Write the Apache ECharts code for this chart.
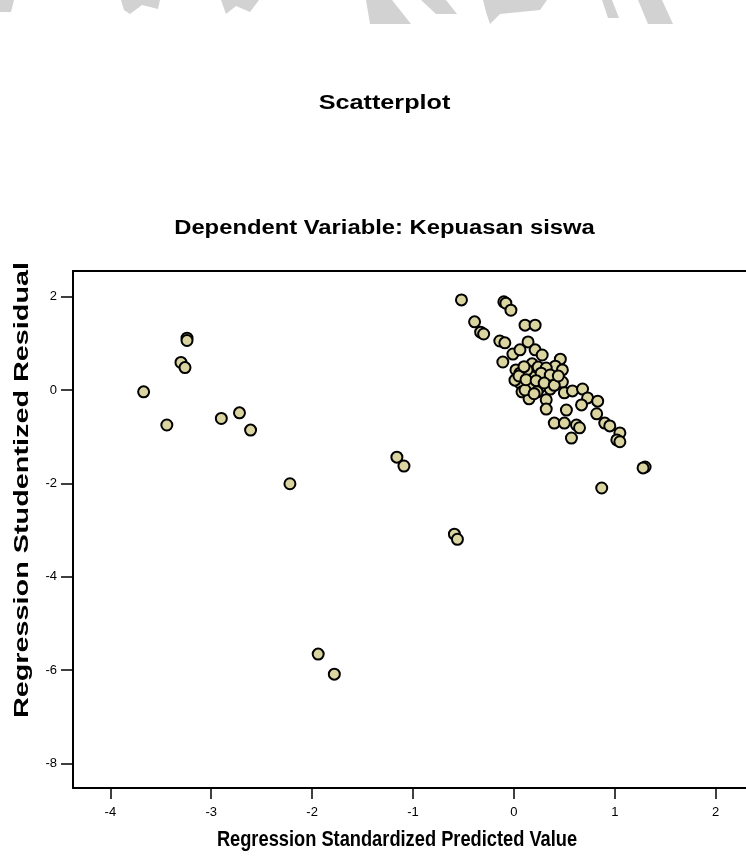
<!DOCTYPE html>
<html>
<head>
<meta charset="utf-8">
<title>Scatterplot</title>
<script src="https://cdn.jsdelivr.net/npm/echarts@6/dist/echarts.min.js"></script>
<style>
  html, body { margin: 0; padding: 0; background: #fff; }
  #chart { width: 746px; height: 858px; }
</style>
</head>
<body>
<div id="chart"></div>
<script>
// predicted value (x) and studentized residual (y)
var predicted = [
  -3.67, -3.24, -3.24, -3.30, -3.26, -3.44, -2.90, -2.72, -2.61, -2.22,
  -1.16, -1.09, -0.59, -0.56, -1.94, -1.78,
  -0.52, -0.10, -0.08, -0.03, -0.39, -0.33, -0.30, 0.11, 0.21, -0.14,
  -0.09, 0.14, -0.01, 0.06, 0.21, 0.28, -0.11, 0.46, 0.41, 0.18,
  0.24, 0.32, 0.02, 0.06, 0.18, 0.27, 0.36, 0.06, 0.18, 0.26,
  0.36, 0.48, 0.08, 0.50, 0.58, 0.68, 0.15, 0.32, 0.32, 0.52,
  0.40, 0.50, 0.57, 0.01, 0.48, 0.73, 0.83, 0.67, 0.82, 0.90,
  0.95, 0.62, 0.65, 1.05, 1.02, 1.05, 1.30, 1.28, 0.87, 0.11,
  0.23, 0.13, 0.05, 0.12, 0.22, 0.30, 0.40, 0.20, 0.44, 0.10
];
var residual = [
  -0.04, 1.11, 1.06, 0.59, 0.48, -0.75, -0.61, -0.49, -0.86, -2.01,
  -1.44, -1.63, -3.09, -3.20, -5.66, -6.09,
  1.93, 1.89, 1.86, 1.71, 1.46, 1.24, 1.20, 1.39, 1.39, 1.05,
  1.01, 1.03, 0.77, 0.86, 0.86, 0.75, 0.60, 0.66, 0.51, 0.56,
  0.49, 0.47, 0.43, 0.36, 0.28, 0.36, 0.32, 0.15, 0.11, 0.06,
  0.02, 0.17, -0.04, -0.06, -0.02, 0.02, -0.19, -0.21, -0.41, -0.43,
  -0.71, -0.71, -1.03, 0.21, 0.43, -0.17, -0.24, -0.32, -0.51, -0.71,
  -0.77, -0.75, -0.81, -0.92, -1.07, -1.11, -1.65, -1.67, -2.10, 0.00,
  -0.04, 0.43, 0.30, 0.22, 0.20, 0.15, 0.10, -0.08, 0.30, 0.50
];
var xTicks = [-4, -3, -2, -1, 0, 1, 2];
var yTicks = [-8, -6, -4, -2, 0, 2];

var points = [];
for (var i = 0; i < predicted.length; i++) {
  points.push([predicted[i], residual[i]]);
}

// bits of the grey watermark cut off at the top edge
var watermark = [
  [[0, 0], [14, 0], [11, 12], [0, 12]],
  [[121, 0], [160, 0], [158, 9], [142, 5], [130, 14], [124, 10]],
  [[221, 0], [259, 0], [250, 12], [236, 6], [226, 14]],
  [[366, 0], [392, 0], [411, 24], [370, 24]],
  [[421, 0], [446, 0], [457, 14], [436, 14]],
  [[483, 0], [547, 0], [540, 10], [500, 14], [490, 24], [486, 12]],
  [[602, 0], [612, 0], [619, 18], [608, 18]],
  [[638, 0], [662, 0], [673, 24], [648, 24]]
];

var chart = echarts.init(document.getElementById('chart'));
var font = '"Liberation Sans", Arial, sans-serif';

var graphics = [{
  type: 'text',
  x: 384.5, y: 103,
  scaleX: 1.2,
  style: {
    text: 'Scatterplot',
    fontFamily: font, fontWeight: 'bold', fontSize: 21, fill: '#000',
    align: 'center', verticalAlign: 'middle'
  }
}, {
  type: 'text',
  x: 384.5, y: 228,
  scaleX: 1.19,
  style: {
    text: 'Dependent Variable: Kepuasan siswa',
    fontFamily: font, fontWeight: 'bold', fontSize: 20, fill: '#000',
    align: 'center', verticalAlign: 'middle'
  }
}, {
  type: 'text',
  x: 397, y: 840,
  scaleX: 0.83,
  style: {
    text: 'Regression Standardized Predicted Value',
    fontFamily: font, fontWeight: 'bold', fontSize: 22, fill: '#000',
    align: 'center', verticalAlign: 'middle'
  }
}, {
  type: 'text',
  x: 22, y: 490,
  rotation: Math.PI / 2,
  scaleX: 1.44,
  style: {
    text: 'Regression Studentized Residual',
    fontFamily: font, fontWeight: 'bold', fontSize: 20, fill: '#000',
    align: 'center', verticalAlign: 'middle'
  }
}];
watermark.forEach(function (pts) {
  graphics.push({
    type: 'polygon',
    shape: { points: pts },
    style: { fill: '#d2d2d2' },
    silent: true
  });
});

chart.setOption({
  backgroundColor: '#fff',
  animation: false,
  grid: { left: 73, right: 0, top: 271, bottom: 70 },
  xAxis: [{
    type: 'value',
    min: -4.37,
    max: 2.30,
    axisLine: { show: true, onZero: false, lineStyle: { color: '#000', width: 2 } },
    axisTick: { show: true, length: 11, customValues: xTicks, lineStyle: { color: '#000', width: 1.5 } },
    axisLabel: { customValues: xTicks, margin: 18, fontFamily: font, fontSize: 13, color: '#000' },
    splitLine: { show: false }
  }, {
    type: 'value',
    position: 'top',
    min: -4.37,
    max: 2.30,
    axisLine: { show: true, onZero: false, lineStyle: { color: '#000', width: 2 } },
    axisTick: { show: false },
    axisLabel: { show: false },
    splitLine: { show: false }
  }],
  yAxis: {
    type: 'value',
    min: -8.53,
    max: 2.55,
    axisLine: { show: true, onZero: false, lineStyle: { color: '#000', width: 2 } },
    axisTick: { show: true, length: 12, customValues: yTicks, lineStyle: { color: '#000', width: 1.5 } },
    axisLabel: { customValues: yTicks, margin: 16, fontFamily: font, fontSize: 13, color: '#000' },
    splitLine: { show: false }
  },
  graphic: graphics,
  series: [{
    type: 'scatter',
    data: points,
    symbol: 'circle',
    symbolSize: 11,
    itemStyle: { color: '#d9d4a0', borderColor: '#000', borderWidth: 2, opacity: 1 }
  }]
});
</script>
</body>
</html>
